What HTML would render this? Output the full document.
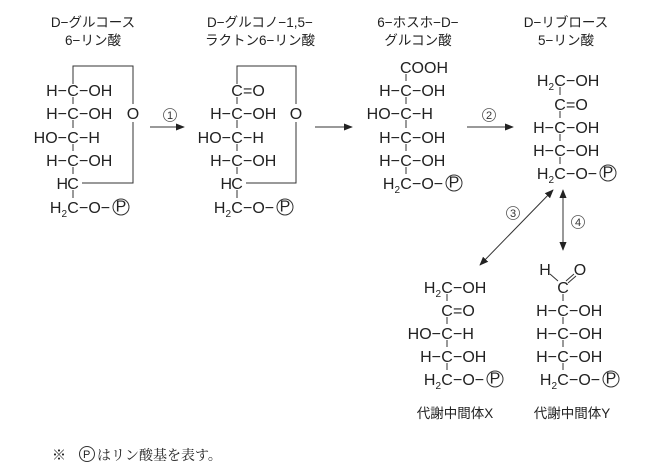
<!DOCTYPE html>
<html><head><meta charset="utf-8"><style>
html,body{margin:0;padding:0;background:#fff;}
svg{display:block;}
.s text{font-family:"Liberation Sans",Arial,sans-serif;font-size:16px;fill:#222;}
.t{font-family:"Liberation Sans","Noto Sans CJK JP",sans-serif;font-size:13.5px;fill:#222;}
.n{font-family:"Liberation Sans",sans-serif;font-size:11px;fill:#333;}
</style></head><body>
<svg width="653" height="470" viewBox="0 0 653 470" xmlns="http://www.w3.org/2000/svg">
<defs>
<marker id="a" viewBox="0 0 10 10" refX="9" refY="5" markerWidth="9" markerHeight="9" orient="auto-start-reverse" markerUnits="userSpaceOnUse"><path d="M0,1 L10,5 L0,9 z" fill="#222"/></marker>
</defs>
<g stroke="#333" stroke-width="1" fill="none">
<path d="M73 84 V66 H133 V104 M133 122 V183 H82"/>
<path d="M73 97 V104 M73 120 V128 M73 144 V151 M73 167 V174 M73 190 V198"/>
<path d="M237 84 V66 H296 V104 M296 122 V183 H246"/>
<path d="M237 97 V104 M237 120 V128 M237 144 V151 M237 167 V174 M237 190 V198"/>
<path d="M406 74 V81 M406 97 V104 M406 120 V128 M406 144 V151 M406 167 V174"/>
<path d="M560 87 V95 M560 111 V118 M560 134 V141 M560 157 V164"/>
<path d="M447 294 V301 M447 317 V324 M447 340 V347 M447 363 V370"/>
<path d="M563 294 V301 M563 317 V324 M563 340 V347 M563 363 V370"/>
<path d="M550 274 L558 281 M566 281 L574 274 M568 283 L576 276"/>
<line x1="150" y1="127" x2="184" y2="127" marker-end="url(#a)"/>
<line x1="315" y1="127" x2="352" y2="127" marker-end="url(#a)"/>
<line x1="467" y1="127" x2="513" y2="127" marker-end="url(#a)"/>
<line x1="553" y1="190" x2="480" y2="265" marker-start="url(#a)" marker-end="url(#a)"/>
<line x1="563" y1="190" x2="563" y2="250" marker-start="url(#a)" marker-end="url(#a)"/>
<circle cx="121" cy="207" r="8"/>
<circle cx="285" cy="207" r="8"/>
<circle cx="454" cy="183" r="8"/>
<circle cx="608" cy="173" r="8"/>
<circle cx="495" cy="379" r="8"/>
<circle cx="611" cy="379" r="8"/>
<circle cx="87" cy="454" r="7.5"/>
</g>
<g class="n" text-anchor="middle">
<circle cx="170" cy="115" r="6.5" fill="none" stroke="#555" stroke-width="0.8"/><text x="170" y="119">1</text>
<circle cx="489" cy="115" r="6.5" fill="none" stroke="#555" stroke-width="0.8"/><text x="489" y="119">2</text>
<circle cx="513" cy="213" r="6.5" fill="none" stroke="#555" stroke-width="0.8"/><text x="513" y="217">3</text>
<circle cx="578" cy="222" r="6.5" fill="none" stroke="#555" stroke-width="0.8"/><text x="578" y="226">4</text>
</g>
<g class="t" text-anchor="middle">
<text x="93" y="27">D−グルコース</text><text x="93" y="45">6−リン酸</text>
<text x="260" y="27">D−グルコノ−1,5−</text><text x="260" y="45">ラクトン6−リン酸</text>
<text x="418" y="27">6−ホスホ−D−</text><text x="418" y="45">グルコン酸</text>
<text x="566" y="27">D−リブロース</text><text x="566" y="45">5−リン酸</text>
<text x="455" y="418">代謝中間体X</text>
<text x="572" y="418">代謝中間体Y</text>
</g>
<text x="52" y="460" style="font-family:'Noto Serif CJK JP','Noto Serif CJK SC',serif;font-size:14px;fill:#222">※</text>
<text x="83" y="458" style="font-family:'Liberation Sans',sans-serif;font-size:11px;fill:#222">P</text>
<text x="97" y="460" style="font-family:'Noto Serif CJK JP','Noto Serif CJK SC',serif;font-size:14px;fill:#222">はリン酸基を表す。</text>
<g class="s">
<g transform="translate(73,0)">
<g transform="translate(0,90)"><text x="-6" y="6" text-anchor="end">H−</text><text y="6" text-anchor="middle">C</text><text x="6" y="6">−OH</text></g>
<g transform="translate(0,113)"><text x="-6" y="6" text-anchor="end">H−</text><text y="6" text-anchor="middle">C</text><text x="6" y="6">−OH</text></g>
<g transform="translate(0,137)"><text x="-6" y="6" text-anchor="end">HO−</text><text y="6" text-anchor="middle">C</text><text x="6" y="6">−H</text></g>
<g transform="translate(0,160)"><text x="-6" y="6" text-anchor="end">H−</text><text y="6" text-anchor="middle">C</text><text x="6" y="6">−OH</text></g>
<g transform="translate(0,183)"><text x="-5" y="6" text-anchor="end">H</text><text y="6" text-anchor="middle">C</text></g>
<g transform="translate(0,207)"><text x="-6" y="6" text-anchor="end">H<tspan font-size="10" dy="4">2</tspan></text><text y="6" text-anchor="middle">C</text><text x="6" y="6">−O−</text><text x="48" y="4.5" text-anchor="middle" font-size="13px">P</text></g>
</g>
<text x="133" y="119" text-anchor="middle">O</text>
<g transform="translate(237,0)">
<g transform="translate(0,90)"><text y="6" text-anchor="middle">C</text><text x="6" y="6">=O</text></g>
<g transform="translate(0,113)"><text x="-6" y="6" text-anchor="end">H−</text><text y="6" text-anchor="middle">C</text><text x="6" y="6">−OH</text></g>
<g transform="translate(0,137)"><text x="-6" y="6" text-anchor="end">HO−</text><text y="6" text-anchor="middle">C</text><text x="6" y="6">−H</text></g>
<g transform="translate(0,160)"><text x="-6" y="6" text-anchor="end">H−</text><text y="6" text-anchor="middle">C</text><text x="6" y="6">−OH</text></g>
<g transform="translate(0,183)"><text x="-5" y="6" text-anchor="end">H</text><text y="6" text-anchor="middle">C</text></g>
<g transform="translate(0,207)"><text x="-6" y="6" text-anchor="end">H<tspan font-size="10" dy="4">2</tspan></text><text y="6" text-anchor="middle">C</text><text x="6" y="6">−O−</text><text x="48" y="4.5" text-anchor="middle" font-size="13px">P</text></g>
</g>
<text x="296" y="119" text-anchor="middle">O</text>
<g transform="translate(406,0)">
<g transform="translate(0,67)"><text x="-6" y="6">COOH</text></g>
<g transform="translate(0,90)"><text x="-6" y="6" text-anchor="end">H−</text><text y="6" text-anchor="middle">C</text><text x="6" y="6">−OH</text></g>
<g transform="translate(0,113)"><text x="-6" y="6" text-anchor="end">HO−</text><text y="6" text-anchor="middle">C</text><text x="6" y="6">−H</text></g>
<g transform="translate(0,137)"><text x="-6" y="6" text-anchor="end">H−</text><text y="6" text-anchor="middle">C</text><text x="6" y="6">−OH</text></g>
<g transform="translate(0,160)"><text x="-6" y="6" text-anchor="end">H−</text><text y="6" text-anchor="middle">C</text><text x="6" y="6">−OH</text></g>
<g transform="translate(0,183)"><text x="-6" y="6" text-anchor="end">H<tspan font-size="10" dy="4">2</tspan></text><text y="6" text-anchor="middle">C</text><text x="6" y="6">−O−</text><text x="48" y="4.5" text-anchor="middle" font-size="13px">P</text></g>
</g>
<g transform="translate(560,0)">
<g transform="translate(0,80)"><text x="-6" y="6" text-anchor="end">H<tspan font-size="10" dy="4">2</tspan></text><text y="6" text-anchor="middle">C</text><text x="6" y="6">−OH</text></g>
<g transform="translate(0,104)"><text y="6" text-anchor="middle">C</text><text x="6" y="6">=O</text></g>
<g transform="translate(0,127)"><text x="-6" y="6" text-anchor="end">H−</text><text y="6" text-anchor="middle">C</text><text x="6" y="6">−OH</text></g>
<g transform="translate(0,150)"><text x="-6" y="6" text-anchor="end">H−</text><text y="6" text-anchor="middle">C</text><text x="6" y="6">−OH</text></g>
<g transform="translate(0,173)"><text x="-6" y="6" text-anchor="end">H<tspan font-size="10" dy="4">2</tspan></text><text y="6" text-anchor="middle">C</text><text x="6" y="6">−O−</text><text x="48" y="4.5" text-anchor="middle" font-size="13px">P</text></g>
</g>
<g transform="translate(447,0)">
<g transform="translate(0,287)"><text x="-6" y="6" text-anchor="end">H<tspan font-size="10" dy="4">2</tspan></text><text y="6" text-anchor="middle">C</text><text x="6" y="6">−OH</text></g>
<g transform="translate(0,310)"><text y="6" text-anchor="middle">C</text><text x="6" y="6">=O</text></g>
<g transform="translate(0,333)"><text x="-6" y="6" text-anchor="end">HO−</text><text y="6" text-anchor="middle">C</text><text x="6" y="6">−H</text></g>
<g transform="translate(0,356)"><text x="-6" y="6" text-anchor="end">H−</text><text y="6" text-anchor="middle">C</text><text x="6" y="6">−OH</text></g>
<g transform="translate(0,379)"><text x="-6" y="6" text-anchor="end">H<tspan font-size="10" dy="4">2</tspan></text><text y="6" text-anchor="middle">C</text><text x="6" y="6">−O−</text><text x="48" y="4.5" text-anchor="middle" font-size="13px">P</text></g>
</g>
<g transform="translate(563,0)">
<text x="-18" y="275" text-anchor="middle">H</text><text x="17" y="275" text-anchor="middle">O</text>
<g transform="translate(0,287)"><text y="6" text-anchor="middle">C</text></g>
<g transform="translate(0,310)"><text x="-6" y="6" text-anchor="end">H−</text><text y="6" text-anchor="middle">C</text><text x="6" y="6">−OH</text></g>
<g transform="translate(0,333)"><text x="-6" y="6" text-anchor="end">H−</text><text y="6" text-anchor="middle">C</text><text x="6" y="6">−OH</text></g>
<g transform="translate(0,356)"><text x="-6" y="6" text-anchor="end">H−</text><text y="6" text-anchor="middle">C</text><text x="6" y="6">−OH</text></g>
<g transform="translate(0,379)"><text x="-6" y="6" text-anchor="end">H<tspan font-size="10" dy="4">2</tspan></text><text y="6" text-anchor="middle">C</text><text x="6" y="6">−O−</text><text x="48" y="4.5" text-anchor="middle" font-size="13px">P</text></g>
</g>
</g>
</svg>
</body></html>
